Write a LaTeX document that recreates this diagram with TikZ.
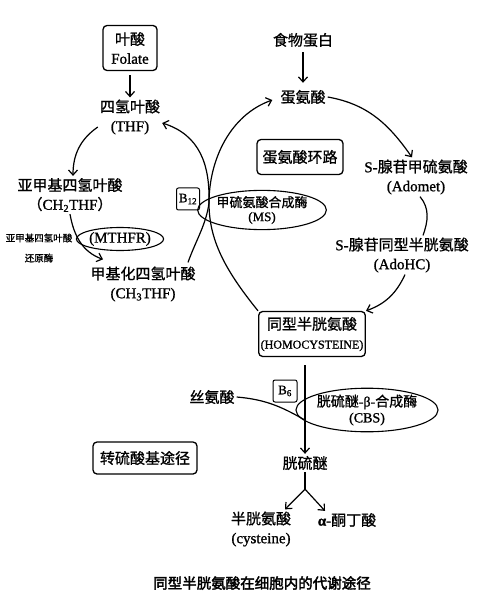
\documentclass[tikz,border=0pt]{standalone}
\usepackage{fontspec}
\setmainfont{Liberation Serif}[FakeBold=1.2]
\newfontfamily\cjk[FakeBold=1]{Noto Sans CJK SC}
\newfontfamily\cjkbold[FakeBold=2.5]{Noto Sans CJK SC}
\newcommand{\zh}[1]{{\cjk #1}}
\usetikzlibrary{arrows.meta,shapes.geometric}

\begin{document}
\begin{tikzpicture}[x=1pt,y=1pt,
        lbl/.style={align=center,inner sep=2pt,font=\fontsize{15}{19}\selectfont},
        pbox/.style={lbl,draw,rounded corners=4pt,line width=1.3pt},
        enz/.style={draw,ellipse,line width=1.1pt,inner sep=0pt,align=center},
        arr/.style={-{Straight Barb[length=5pt,width=9pt]},line width=1.2pt},
        link/.style={line width=1.2pt}]
        \useasboundingbox (0,0) rectangle (498,-612);

        % folate cycle
        \node[pbox,minimum width=54,minimum height=45] (folate) at (130,-48) {\zh{叶酸}\\Folate};
        \node[lbl] (thf) at (130,-117) {\zh{四氢叶酸}\\(THF)};
        \node[lbl] (ch2) at (70,-195) {\zh{亚甲基四氢叶酸}\\\zh{（}CH\textsubscript{2}THF\zh{）}};
        \node[lbl] (ch3) at (143,-284) {\zh{甲基化四氢叶酸}\\(CH\textsubscript{3}THF)};
        \node[enz,minimum width=75,minimum height=23,font=\fontsize{15}{17}\selectfont] (mthfr) at (120,-239) {(MTHFR)};
        \node[lbl,font=\fontsize{9.5}{20}\selectfont] (mtr) at (39,-248) {\zh{亚甲基四氢叶酸}\\\zh{还原酶}};

        \draw[arr,shorten <=4pt] (folate.south) -- (thf.north);
        \draw[arr] ([yshift=-10pt]thf.west) to[out=-145,in=90] ([xshift=3pt]ch2.north);
        \draw[arr] (ch2.south) to[out=-80,in=160] ([shift={(-40pt,5pt)}]ch3.north);

        % B12 / MS
        \coordinate (touch) at (209,-203);
        \node[pbox,rounded corners=2pt,line width=1pt,minimum width=23,minimum height=22,inner sep=1pt,font=\fontsize{13}{15}\selectfont] (b12) at (188,-199) {B\textsubscript{12}};
        \node[enz,minimum width=105,minimum height=30,font=\fontsize{13}{14}\selectfont] (ms) at (262,-210) {\zh{甲硫氨酸合成酶}\\(MS)};

        % methionine cycle
        \node[lbl] (food) at (303,-40) {\zh{食物蛋白}};
        \node[lbl] (meth) at (303,-97) {\zh{蛋氨酸}};
        \node[pbox,minimum width=86,minimum height=35] (loop) at (300,-157) {\zh{蛋氨酸环路}};
        \node[lbl] (ado) at (416,-177) {S-\zh{腺苷甲硫氨酸}\\(Adomet)};
        \node[lbl] (adohc) at (402,-255) {S-\zh{腺苷同型半胱氨酸}\\(AdoHC)};
        \node[pbox,minimum width=105,minimum height=45] (hcy) at (312,-334) {\zh{同型半胱氨酸}\\{\fontsize{12}{19}\selectfont(HOMOCYSTEINE)}};

        \draw[arr,shorten <=3pt,shorten >=5pt] (food.south) -- (meth.north);
        \draw[arr] (meth.east) to[out=-10,in=125] ([xshift=-4pt]ado.north);
        \draw[link] ([xshift=4pt]ado.south) to[out=-50,in=70] ([xshift=21pt]adohc.north);
        \draw[arr] ([xshift=3pt]adohc.south) to[out=-115,in=20] (hcy.north east);

        \draw[arr] ([shift={(45pt,2pt)}]ch3.north) .. controls (196,-240) and (206,-225) .. (touch)
            .. controls (210,-165) and (200,-135) .. ([yshift=-6pt]thf.east);
        \draw[arr] (hcy.north west) .. controls (225,-270) and (209,-240) .. (touch)
            .. controls (209,-160) and (230,-115) .. ([shift={(-6pt,-3pt)}]meth.west);

        % transsulfuration
        \node[lbl] (ctn) at (305,-463) {\zh{胱硫醚}};
        \node[lbl] (ser) at (212,-397) {\zh{丝氨酸}};
        \node[pbox,rounded corners=2pt,line width=1pt,minimum width=24,minimum height=22,inner sep=1pt,font=\fontsize{13}{15}\selectfont] (b6) at (285,-391) {B\textsubscript{6}};
        \node[enz,minimum width=120,minimum height=40,font=\fontsize{14}{16}\selectfont] (cbs) at (367,-410) {\zh{胱硫醚}-β-\zh{合成酶}\\(CBS)};
        \node[pbox,minimum width=104,minimum height=32] (tsp) at (145,-458) {\zh{转硫酸基途径}};
        \node[lbl] (cys) at (261,-529) {\zh{半胱氨酸}\\(cysteine)};
        \node[lbl] (akb) at (347,-520) {\textbf{α}-\zh{酮丁酸}};

        \coordinate (hcyout) at ([shift={(-7pt,-8pt)}]hcy.south);
        \draw[arr] (hcyout) -- (ctn.north);
        \path (hcyout) -- (ctn.north) coordinate[pos=0.62] (join);
        \draw[link] (ser.east) to[out=-5,in=150] (join);

        \coordinate (fork) at ([yshift=-17pt]ctn.south);
        \draw[link] (ctn.south) -- (fork);
        \draw[arr] (fork) -- ([xshift=24pt]cys.north);
        \draw[arr] (fork) -- ([xshift=-22pt]akb.north);

        \node[font=\cjkbold\fontsize{14.5}{16}\selectfont] (cap) at (262,-583) {同型半胱氨酸在细胞内的代谢途径};
    \end{tikzpicture}
\end{document}
